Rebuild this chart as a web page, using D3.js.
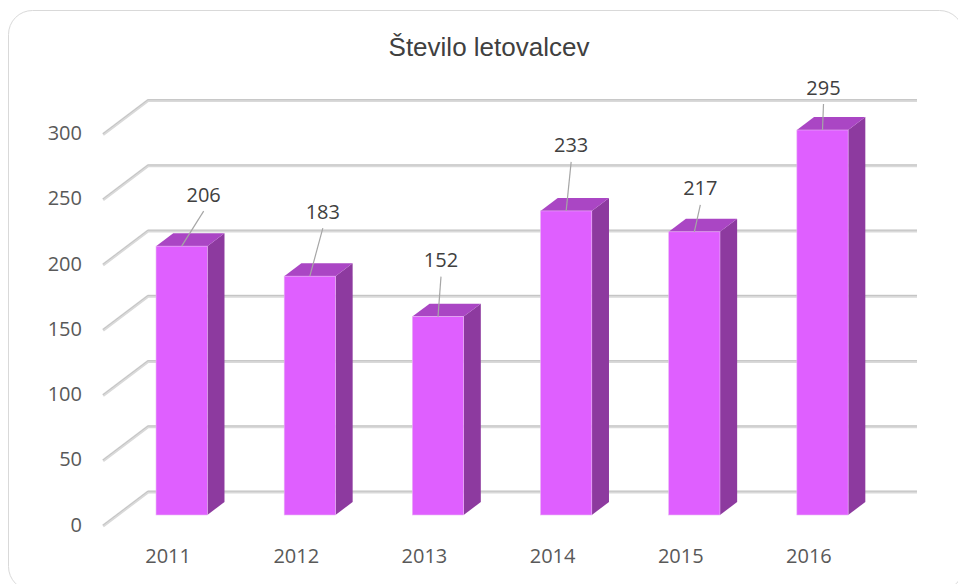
<!DOCTYPE html>
<html>
<head>
<meta charset="utf-8">
<script src="https://cdn.jsdelivr.net/npm/d3@7"></script>
<style>
  body { margin: 0; background: #ffffff; }
  svg { display: block; }
</style>
</head>
<body>
<div id="chart"></div>
<script>
/* Data */
var years = ["2011", "2012", "2013", "2014", "2015", "2016"];
var letovalci = [206, 183, 152, 233, 217, 295];
var yTicks = [0, 50, 100, 150, 200, 250, 300];

/* Where each data label sits, relative to the top of its bar (dragged by hand in the original) */
var labelShift = [[22, -52], [13, -65], [3, -57], [5, -66], [6, -44], [1, -43]];

var width = 958, height = 584;

/* depth of the 3D box: full depth offset and the bar's slice of it */
var depthX = 45, depthY = 34;
var barZ0 = 0.324, barZ1 = 0.706;

var svg = d3.select("#chart")
    .append("svg")
    .attr("width", width)
    .attr("height", height)
;

/* chart area border */
svg.append("rect")
    .attr("x", 8.5).attr("y", 10.5)
    .attr("width", 955).attr("height", 580)
    .attr("rx", 24).attr("ry", 24)
    .attr("fill", "#ffffff")
    .attr("stroke", "#d9d9d9")
    .attr("stroke-width", 1)
;

/* title */
svg.append("text")
    .attr("x", 489).attr("y", 47)
    .attr("text-anchor", "middle")
    .attr("dominant-baseline", "central")
    .attr("font-family", "'Liberation Sans', Arial, sans-serif")
    .attr("font-size", 26)
    .attr("fill", "#404040")
    .text("Število letovalcev")
;

var x = d3.scaleBand()
    .domain(years)
    .range([103, 872])
    .paddingInner(0.6)
    .paddingOuter(0.3)
;

var y = d3.scaleLinear()
    .domain([0, 300])
    .range([526, 134.5])
;

/* gridlines: left wall diagonal + back wall line */
var grid = svg.append("g").attr("class", "grid");
yTicks.forEach(function (t) {
    var yf = y(t);
    var pts = [[103, yf], [103 + depthX, yf - depthY], [872 + depthX, yf - depthY]];
    grid.append("path")
        .attr("d", d3.line()(pts))
        .attr("fill", "none")
        .attr("stroke", "#d9d9d9")
        .attr("stroke-width", 3)
        .attr("stroke-linejoin", "round")
    ;
    grid.append("path")
        .attr("d", d3.line()(pts.map(function (p) { return [p[0], p[1] - 0.8]; })))
        .attr("fill", "none")
        .attr("stroke", "#c4c4c4")
        .attr("stroke-width", 1)
    ;
});

/* y axis labels */
svg.append("g").selectAll("text")
    .data(yTicks)
    .join("text")
    .attr("x", 82)
    .attr("y", function (d) { return y(d) - 2; })
    .attr("text-anchor", "end")
    .attr("dominant-baseline", "central")
    .attr("font-family", "'Open Sans', sans-serif")
    .attr("font-size", 20)
    .attr("fill", "#595959")
    .text(function (d) { return d; })
;

/* x axis labels */
svg.append("g").selectAll("text")
    .data(years)
    .join("text")
    .attr("x", function (d) { return x(d) + x.bandwidth() / 2 + 1; })
    .attr("y", 555)
    .attr("text-anchor", "middle")
    .attr("dominant-baseline", "central")
    .attr("font-family", "'Open Sans', sans-serif")
    .attr("font-size", 20)
    .attr("fill", "#595959")
    .text(function (d) { return d; })
;

/* bars */
var dx0 = depthX * barZ0, dy0 = depthY * barZ0;
var dx = depthX * (barZ1 - barZ0), dy = depthY * (barZ1 - barZ0);
var bars = svg.append("g").attr("class", "bars");

years.forEach(function (yr, i) {
    var xl = x(yr) + dx0;
    var xr = xl + x.bandwidth();
    var yb = y(0) - dy0;
    var yt = y(letovalci[i]) - dy0;
    var g = bars.append("g");

    /* side */
    g.append("path")
        .attr("d", d3.line()([[xr, yb], [xr + dx, yb - dy], [xr + dx, yt - dy], [xr, yt]]) + "Z")
        .attr("fill", "#8d3a9f")
    ;
    /* top */
    g.append("path")
        .attr("d", d3.line()([[xl, yt], [xl + dx, yt - dy], [xr + dx, yt - dy], [xr, yt]]) + "Z")
        .attr("fill", "#aa46c4")
    ;
    /* front */
    g.append("rect")
        .attr("x", xl).attr("y", yt)
        .attr("width", xr - xl).attr("height", yb - yt)
        .attr("fill", "#df5fff")
        .attr("stroke", "#e9b3f5")
        .attr("stroke-width", 0.6)
    ;
});

/* data labels with leader lines */
var labels = svg.append("g").attr("class", "labels");
years.forEach(function (yr, i) {
    var cx = x(yr) + dx0 + x.bandwidth() / 2;
    var top = y(letovalci[i]) - dy0;
    var lx = cx + labelShift[i][0];
    var ly = top + labelShift[i][1];

    labels.append("line")
        .attr("x1", lx).attr("y1", ly + 17)
        .attr("x2", cx).attr("y2", top)
        .attr("stroke", "#a6a6a6")
        .attr("stroke-width", 1.2)
    ;
    labels.append("text")
        .attr("x", lx).attr("y", ly)
        .attr("text-anchor", "middle")
        .attr("dominant-baseline", "central")
        .attr("font-family", "'Open Sans', sans-serif")
        .attr("font-size", 20)
        .attr("fill", "#404040")
        .text(letovalci[i])
    ;
});
</script>
</body>
</html>
